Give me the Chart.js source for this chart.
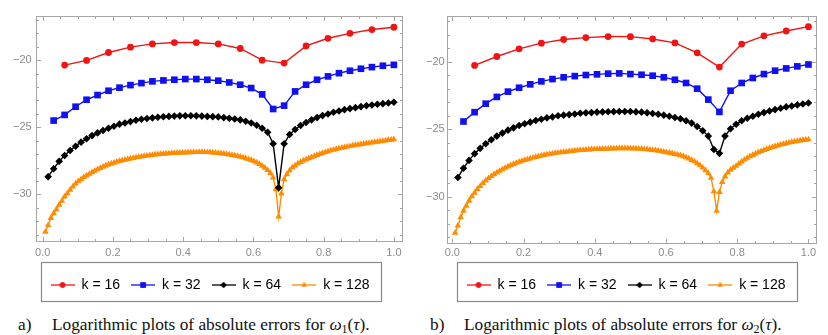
<!DOCTYPE html>
<html>
<head>
<meta charset="utf-8">
<script src="https://cdn.jsdelivr.net/npm/chart.js@4.4.1/dist/chart.umd.min.js"></script>
<style>
  body { margin: 0; width: 828px; height: 335px; position: relative; background: #fff; overflow: hidden; }
  .panel { position: absolute; top: 0; width: 414px; height: 305px; }
  .cap { position: absolute; top: 315px; font: 17.3px "Liberation Serif", "Times New Roman", serif; line-height: 20px; color: #111; white-space: nowrap; }
  .cap sub { font-size: 12px; vertical-align: -3px; }
</style>
</head>
<body>
<div class="panel" style="left:0"><canvas id="chartA"></canvas></div>
<div class="panel" style="left:414px"><canvas id="chartB"></canvas></div>
<div class="cap" style="left:18px">a)</div>
<div class="cap" style="left:52px">Logarithmic plots of absolute errors for <i>ω</i><sub>1</sub>(<i>τ</i>).</div>
<div class="cap" style="left:430px">b)</div>
<div class="cap" style="left:464px">Logarithmic plots of absolute errors for <i>ω</i><sub>2</sub>(<i>τ</i>).</div>
<script>
// tick labels and series names
const xTicks = [0, 0.2, 0.4, 0.6, 0.8, 1.0];
const yTicks = [-30, -25, -20];
const seriesK = [16, 32, 64, 128];

// a) omega_1 errors (log10), point i is at tau = i/k
const a16 = [-20.37, -20.02, -19.43, -19.03, -18.79, -18.69, -18.69, -18.79, -19.13, -20.0,
  -20.22, -18.94, -18.37, -18.0, -17.72, -17.55];
const a32 = [-24.5, -24.08, -23.47, -22.95, -22.6, -22.28, -22.05, -21.86, -21.71, -21.58,
  -21.51, -21.46, -21.41, -21.41, -21.46, -21.53, -21.66, -21.83, -22.08, -22.55,
  -23.64, -23.39, -22.33, -21.83, -21.46, -21.21, -20.97, -20.79, -20.64, -20.52,
  -20.42, -20.35];
const a64 = [-28.68, -28.09, -27.54, -27.1, -26.73, -26.41, -26.11, -25.86, -25.62, -25.42,
  -25.24, -25.07, -24.92, -24.77, -24.68, -24.58, -24.48, -24.4, -24.35, -24.3,
  -24.26, -24.22, -24.19, -24.17, -24.15, -24.14, -24.14, -24.15, -24.17, -24.19,
  -24.21, -24.23, -24.28, -24.33, -24.38, -24.45, -24.55, -24.68, -24.85, -25.07,
  -25.37, -26.23, -29.5, -26.23, -25.54, -25.17, -24.87, -24.65, -24.45, -24.28,
  -24.13, -24.01, -23.88, -23.79, -23.69, -23.61, -23.54, -23.46, -23.39, -23.34,
  -23.29, -23.24, -23.19, -23.14];
const a128 = [-32.79, -32.3, -31.77, -31.42, -31.11, -30.78, -30.49, -30.17, -29.92, -29.66,
  -29.42, -29.2, -29.03, -28.88, -28.72, -28.6, -28.48, -28.36, -28.25, -28.14,
  -28.04, -27.95, -27.86, -27.78, -27.71, -27.65, -27.58, -27.52, -27.47, -27.42,
  -27.38, -27.33, -27.29, -27.25, -27.22, -27.18, -27.15, -27.12, -27.09, -27.07,
  -27.04, -27.02, -27.0, -26.98, -26.96, -26.95, -26.93, -26.92, -26.91, -26.9,
  -26.89, -26.88, -26.87, -26.87, -26.86, -26.86, -26.85, -26.85, -26.86, -26.86,
  -26.87, -26.88, -26.9, -26.92, -26.94, -26.97, -27.0, -27.03, -27.07, -27.11,
  -27.15, -27.2, -27.25, -27.31, -27.38, -27.45, -27.53, -27.63, -27.74, -27.87,
  -28.02, -28.2, -28.42, -28.76, -29.62, -31.65, -29.94, -28.88, -28.5, -28.22,
  -28.0, -27.85, -27.71, -27.6, -27.49, -27.4, -27.31, -27.23, -27.14, -27.07,
  -27.0, -26.93, -26.86, -26.79, -26.73, -26.68, -26.63, -26.58, -26.53, -26.49,
  -26.45, -26.41, -26.37, -26.33, -26.3, -26.27, -26.23, -26.2, -26.17, -26.14,
  -26.11, -26.08, -26.05, -26.02, -25.99, -25.96, -25.93, -25.9];

// b) omega_2 errors (log10)
const b16 = [-20.27, -19.61, -19.04, -18.62, -18.35, -18.21, -18.13, -18.14, -18.31, -18.6,
  -19.34, -20.39, -18.69, -18.08, -17.72, -17.4];
const b32 = [-24.42, -23.73, -23.1, -22.6, -22.21, -21.92, -21.67, -21.45, -21.28, -21.15,
  -21.06, -20.98, -20.93, -20.88, -20.86, -20.91, -20.96, -21.03, -21.15, -21.33,
  -21.57, -21.99, -22.8, -23.71, -22.14, -21.57, -21.2, -20.91, -20.66, -20.49,
  -20.34, -20.2];
const b64 = [-28.57, -27.88, -27.3, -26.8, -26.41, -26.07, -25.77, -25.5, -25.28, -25.06,
  -24.89, -24.72, -24.59, -24.47, -24.35, -24.25, -24.15, -24.08, -24.0, -23.95,
  -23.91, -23.86, -23.81, -23.78, -23.76, -23.73, -23.71, -23.7, -23.69, -23.68,
  -23.68, -23.68, -23.71, -23.73, -23.78, -23.83, -23.88, -23.95, -24.03, -24.13,
  -24.22, -24.37, -24.54, -24.79, -25.11, -25.5, -26.49, -26.78, -25.5, -24.96,
  -24.62, -24.37, -24.18, -24.03, -23.88, -23.76, -23.64, -23.54, -23.44, -23.34,
  -23.27, -23.19, -23.12, -23.05];
const b128 = [-32.67, -32.13, -31.52, -31.03, -30.66, -30.29, -29.97, -29.7, -29.43, -29.21,
  -28.99, -28.79, -28.62, -28.47, -28.33, -28.2, -28.08, -27.97, -27.86, -27.76,
  -27.66, -27.57, -27.49, -27.41, -27.34, -27.28, -27.22, -27.16, -27.1, -27.05,
  -27.0, -26.95, -26.9, -26.86, -26.83, -26.79, -26.76, -26.73, -26.71, -26.68,
  -26.66, -26.63, -26.61, -26.58, -26.56, -26.54, -26.53, -26.51, -26.5, -26.48,
  -26.47, -26.46, -26.46, -26.45, -26.44, -26.44, -26.43, -26.42, -26.41, -26.41,
  -26.41, -26.41, -26.41, -26.41, -26.42, -26.43, -26.44, -26.45, -26.47, -26.48,
  -26.51, -26.53, -26.56, -26.59, -26.62, -26.66, -26.7, -26.74, -26.78, -26.83,
  -26.88, -26.93, -27.0, -27.07, -27.16, -27.27, -27.38, -27.52, -27.67, -27.84,
  -28.03, -28.25, -28.6, -29.6, -31.03, -29.65, -28.9, -28.5, -28.2, -28.0,
  -27.85, -27.71, -27.55, -27.39, -27.25, -27.12, -27.0, -26.9, -26.8, -26.71,
  -26.62, -26.53, -26.46, -26.39, -26.32, -26.26, -26.2, -26.14, -26.09, -26.04,
  -25.99, -25.94, -25.9, -25.87, -25.83, -25.8, -25.77, -25.75];

const colors = ["#f01414", "#1010f0", "#000000", "#ff8c00"];
const markers = ["circle", "rect", "rectRot", "triangle"];
const markerSize = [3.4, 4.7, 3.8, 3.8];

function toPoints(vals) {
  const k = vals.length;
  return vals.map((v, i) => ({ x: (i + 1) / k, y: v }));
}

// little "line + marker" picture for the legend
function legendIcon(i) {
  const c = document.createElement("canvas");
  c.width = 24; c.height = 10;
  const ctx = c.getContext("2d");
  ctx.strokeStyle = colors[i];
  ctx.fillStyle = colors[i];
  ctx.lineWidth = 1.3;
  ctx.beginPath(); ctx.moveTo(0, 5); ctx.lineTo(24, 5); ctx.stroke();
  Chart.helpers.drawPoint(ctx, { pointStyle: markers[i], radius: markerSize[i] * 0.8, rotation: 0, borderWidth: 0 }, 12, 5);
  ctx.fill();
  return c;
}

// Mathematica style frame with inward ticks on all four sides
const framePlugin = {
  id: "frame",
  afterDraw(chart) {
    const { ctx, chartArea: a, scales: { x, y } } = chart;
    ctx.save();
    ctx.strokeStyle = "#a6a6a6";
    ctx.lineWidth = 1;
    ctx.strokeRect(a.left + 0.5, a.top + 0.5, a.right - a.left - 1, a.bottom - a.top - 1);
    ctx.beginPath();
    for (let v = 0; v <= 1.0001; v += 0.05) {
      const px = Math.round(x.getPixelForValue(v)) + 0.5;
      const major = xTicks.some(t => Math.abs(t - v) < 1e-6);
      const len = major ? 5 : 3;
      ctx.moveTo(px, a.bottom); ctx.lineTo(px, a.bottom - len);
      ctx.moveTo(px, a.top); ctx.lineTo(px, a.top + len);
    }
    for (let v = Math.ceil(y.min); v <= y.max; v++) {
      const py = Math.round(y.getPixelForValue(v)) + 0.5;
      const len = yTicks.includes(v) ? 5 : 3;
      ctx.moveTo(a.left, py); ctx.lineTo(a.left + len, py);
      ctx.moveTo(a.right, py); ctx.lineTo(a.right - len, py);
    }
    ctx.stroke();
    // box round the legend
    const boxes = chart.legend.legendHitBoxes;
    if (boxes.length) {
      const l = Math.min(...boxes.map(b => b.left)) - 10;
      const r = Math.max(...boxes.map(b => b.left + b.width)) + 11;
      const t = boxes[0].top - 16;
      ctx.strokeStyle = "#8a8a8a";
      ctx.lineWidth = 1.2;
      ctx.strokeRect(Math.round(l) + 0.5, Math.round(t) + 0.5, Math.round(r - l), 39);
    }
    ctx.restore();
  }
};

function makePanel(id, series, p) {
  new Chart(document.getElementById(id), {
    type: "line",
    data: {
      datasets: series.map((vals, i) => ({
        label: "k = " + seriesK[i],
        data: toPoints(vals),
        borderColor: colors[i],
        backgroundColor: colors[i],
        borderWidth: 1.4,
        pointStyle: markers[i],
        pointRadius: markerSize[i],
        pointBorderWidth: 0,
        pointBackgroundColor: colors[i],
        tension: 0,
        clip: 6
      }))
    },
    options: {
      responsive: true,
      maintainAspectRatio: false,
      animation: false,
      layout: { padding: { left: p.padLeft, right: 11, top: 16, bottom: 3 } },
      plugins: {
        tooltip: { enabled: false },
        legend: {
          position: "bottom",
          labels: {
            usePointStyle: true,
            pointStyleWidth: 24,
            padding: 11,
            color: "#111",
            font: { family: "Arial", size: 14 },
            generateLabels: chart => chart.data.datasets.map((ds, i) => ({
              text: ds.label, pointStyle: legendIcon(i), fillStyle: colors[i],
              strokeStyle: colors[i], lineWidth: 0, hidden: false, datasetIndex: i
            }))
          }
        }
      },
      scales: {
        x: {
          type: "linear",
          min: p.xMin, max: p.xMax,
          grid: { display: false, drawTicks: false },
          border: { display: false },
          ticks: { color: "#8c8c8c", padding: p.xPad, font: { family: "Arial", size: 11 },
            callback: v => v.toFixed(1) },
          afterBuildTicks: s => { s.ticks = xTicks.map(v => ({ value: v })); },
          afterFit: s => { s.height = p.xHeight; }
        },
        y: {
          type: "linear",
          min: p.yMin, max: p.yMax,
          grid: { display: false, drawTicks: false },
          border: { display: false },
          // mirrored labels pulled back out to the left of the frame (no clipping)
          ticks: { color: "#8c8c8c", mirror: true, padding: p.yPad, font: { family: "Arial", size: 11 },
            callback: v => "\u2212" + Math.abs(v) },
          afterBuildTicks: s => { s.ticks = yTicks.map(v => ({ value: v })); },
          afterFit: s => { s.width = p.yWidth; }
        }
      }
    },
    plugins: [framePlugin]
  });
}

makePanel("chartA", [a16, a32, a64, a128],
  { padLeft: 17, yWidth: 19, yPad: -23, xMin: -0.019, xMax: 1.026, yMin: -33.55, yMax: -16.71, xHeight: 25, xPad: 4 });
makePanel("chartB", [b16, b32, b64, b128],
  { padLeft: 21, yWidth: 12, yPad: -21, xMin: -0.015, xMax: 1.024, yMin: -33.49, yMax: -16.61, xHeight: 23, xPad: 2 });
</script>
</body>
</html>
